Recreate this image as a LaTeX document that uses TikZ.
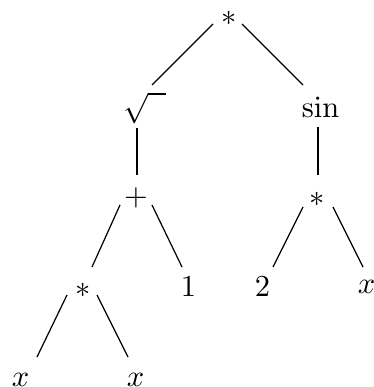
\documentclass[tikz,border=0pt]{standalone}
\usepackage{amsmath}

\begin{document}
\begin{tikzpicture}[
    x=0.328pt, y=-0.328pt,
    op/.style={inner sep=0pt}
]
\useasboundingbox (0,0) rectangle (374,387);

% Level 0 and 1
\node[op] (root) at (229,18)    {$*$};
\node[op] (sqrt) at (144.5,108) {$\sqrt{\phantom{x}}$};
\node[op] (sin)  at (320.5,107) {$\sin$};

% Level 2
\node[op] (plus) at (136,198)   {$+$};
\node[op] (mulR) at (317.5,199) {$*$};

% Level 3
\node[op] (mulL) at (83,290)    {$*$};
\node[op] (one)  at (188.5,287) {$1$};
\node[op] (two)  at (262.5,286.5) {$2$};
\node[op] (xR)   at (366.5,287) {$x$};

% Level 4
\node[op] (xa)   at (20.5,380)  {$x$};
\node[op] (xb)   at (135.5,380) {$x$};

\draw ([shift={(-16,6)}]root.center)   -- ([shift={(7.5,-23)}]sqrt.center);
\draw ([shift={(13,6)}]root.center)    -- ([shift={(-17.5,-22)}]sin.center);
\draw ([shift={(-7.5,20)}]sqrt.center) -- ([shift={(1,-23)}]plus.center);
\draw ([shift={(-2.5,20)}]sin.center)  -- ([shift={(0.5,-24)}]mulR.center);
\draw ([shift={(-16,7)}]plus.center)   -- ([shift={(9,-23)}]mulL.center);
\draw ([shift={(16,7)}]plus.center)    -- ([shift={(-6.5,-20)}]one.center);
\draw ([shift={(-16,5)}]mulL.center)   -- ([shift={(16.5,-23)}]xa.center);
\draw ([shift={(14,5)}]mulL.center)    -- ([shift={(-7.5,-23)}]xb.center);
\draw ([shift={(-14.5,8)}]mulR.center) -- ([shift={(10.5,-19.5)}]two.center);
\draw ([shift={(15.5,8)}]mulR.center)  -- ([shift={(-3.5,-20)}]xR.center);
\end{tikzpicture}
\end{document}
